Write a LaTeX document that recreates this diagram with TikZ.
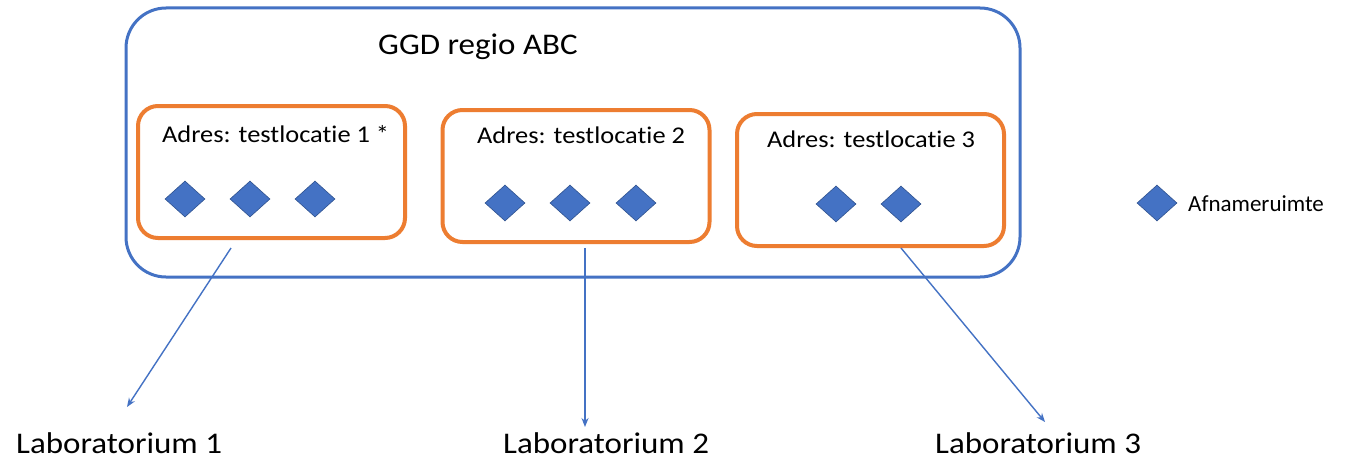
\documentclass[tikz,border=0pt]{standalone}
\usepackage{fontspec}
\setmainfont{Carlito}[FakeStretch=1.1, Ligatures={NoCommon}]
\newfontfamily\legfont{Carlito}[Ligatures={NoCommon}]
\usetikzlibrary{shapes.geometric,arrows.meta}
\definecolor{oblue}{HTML}{4472C4}
\definecolor{dblue}{HTML}{2F528F}
\definecolor{oorange}{HTML}{ED7D31}
\tikzset{
  outerbox/.style={draw=oblue, line width=3pt, rounded corners=40pt, rectangle, inner sep=0pt},
  locbox/.style={draw=oorange, line width=4pt, rounded corners=20pt, rectangle, inner sep=0pt, minimum width=267pt, minimum height=132pt},
  room/.style={shape=diamond, fill=oblue, draw=dblue, line width=0.6pt, inner sep=0pt, minimum width=40pt, minimum height=36pt},
  lbl/.style={anchor=base west, inner sep=0pt, text=black},
  conn/.style={draw=oblue, line width=1.4pt, -{Stealth[length=9pt,width=7pt]}}
}
\begin{document}
\begin{tikzpicture}[x=1pt,y=-1pt]
\useasboundingbox[fill=white] (0,0) rectangle (1348,460);
% outer region
\node[outerbox, minimum width=894pt, minimum height=269pt] (ggd) at (573,142.5) {};
\node[lbl, font=\fontsize{30}{36}\selectfont] (ggdt) at (378,55) {GGD regio ABC};
% location boxes
\node[locbox] (l1) at (271.5,172) {};
\node[locbox] (l2) at (576,176) {};
\node[locbox] (l3) at (870.5,180) {};
\node[lbl, font=\fontsize{24}{29}\selectfont] (t1) at (162,142) {Adres: testlocatie 1 *};
\node[lbl, font=\fontsize{24}{29}\selectfont] (t2) at (477,143) {Adres: testlocatie 2};
\node[lbl, font=\fontsize{24}{29}\selectfont] (t3) at (767,147) {Adres: testlocatie 3};
% rooms
\node[room] (r11) at (185,199) {};
\node[room] (r12) at (250,199) {};
\node[room] (r13) at (315,199) {};
\node[room] (r21) at (505,203) {};
\node[room] (r22) at (570,203) {};
\node[room] (r23) at (636,203) {};
\node[room] (r31) at (836,204) {};
\node[room] (r32) at (901,204) {};
% legend
\node[room] (leg) at (1157,203) {};
\node[lbl, font=\legfont\fontsize{23}{28}\selectfont] (legt) at (1188,211) {Afnameruimte};
% laboratories
\node[lbl, font=\fontsize{30}{36}\selectfont] (lab1) at (16,453) {Laboratorium 1};
\node[lbl, font=\fontsize{30}{36}\selectfont] (lab2) at (503,453) {Laboratorium 2};
\node[lbl, font=\fontsize{30}{36}\selectfont] (lab3) at (935,453) {Laboratorium 3};
% connector ends
\coordinate (s1) at (231,248);
\coordinate (e1) at (127,407);
\coordinate (s2) at (585,248);
\coordinate (e2) at (585,427);
\coordinate (s3) at (901,248);
\coordinate (e3) at (1045,422);
\draw[conn] (s1) -- (e1);
\draw[conn] (s2) -- (e2);
\draw[conn] (s3) -- (e3);
\end{tikzpicture}
\end{document}
